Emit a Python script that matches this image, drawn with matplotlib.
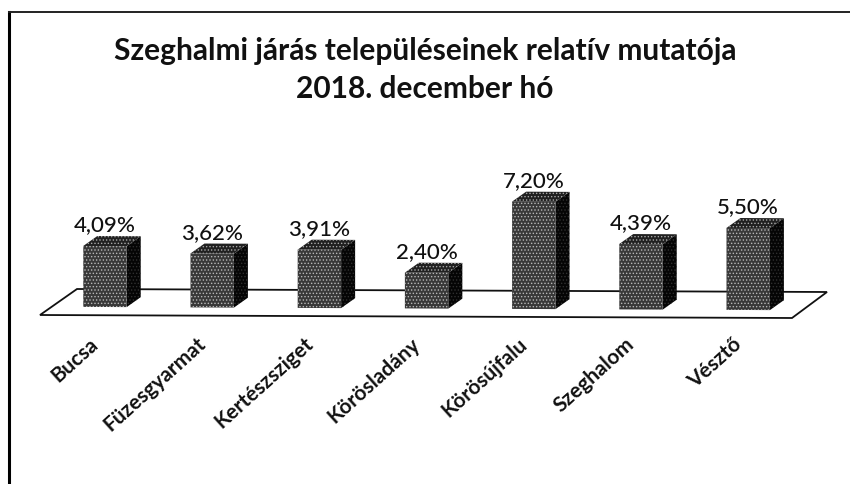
import matplotlib
matplotlib.use('Agg')
import matplotlib.pyplot as plt
from matplotlib.patches import Polygon
from matplotlib.transforms import Affine2D

# Data
telepulesek = ["Bucsa", "Füzesgyarmat", "Kertészsziget", "Körösladány",
               "Körösújfalu", "Szeghalom", "Vésztő"]
mutato = [4.09, 3.62, 3.91, 2.40, 7.20, 4.39, 5.50]
cimkek = ["4,09%", "3,62%", "3,91%", "2,40%", "7,20%", "4,39%", "5,50%"]

plt.rcParams['font.family'] = ['Lato', 'DejaVu Sans']
plt.rcParams['hatch.linewidth'] = 0.6

W, H = 850, 484
fig = plt.figure(figsize=(W / 100, H / 100), dpi=100)
ax = fig.add_axes([0, 0, 1, 1])

# scale: one category = 107.2 px, one percent = 14.9 px, baseline at y=307 px
px_x, px_y = 107.2, 14.9
ax.set_xlim(-105 / px_x, (W - 105) / px_x)
ax.set_ylim(-(H - 307) / px_y, 307 / px_y)
ax.axis('off')

# the scanned page is slightly tilted, about 0.5 px per category
tilt = Affine2D.from_values(1, -0.5 / px_y, 0, 1, 0, 0) + ax.transData

# pixel coordinates for the frame and the floor
pix = Affine2D().scale(1 / W, -1 / H).translate(0, 1) + fig.transFigure

floor = Polygon([(40, 315), (792, 318), (827, 292), (77, 289)], closed=True,
                facecolor='white', edgecolor='#111111', linewidth=1.3,
                transform=pix, zorder=1)
ax.add_patch(floor)
ax.plot([9, 9], [12, 484], color='black', lw=2.2, transform=pix, zorder=1)
ax.plot([9, 850], [12, 12], color='#222222', lw=1.4, transform=pix, zorder=1)

# 3D look of the columns
bar_w = 0.405
dx, dy = 14 / px_x, 10 / px_y
x = list(range(len(mutato)))

for xi, v in zip(x, mutato):
    right = xi + bar_w / 2
    left = xi - bar_w / 2
    side = Polygon([(right, 0), (right + dx, dy), (right + dx, v + dy), (right, v)],
                   facecolor='#050505', edgecolor='#303030', linewidth=0, hatch='.....',
                   transform=tilt, zorder=2)
    top = Polygon([(left, v), (left + dx, v + dy), (right + dx, v + dy), (right, v)],
                  facecolor='#202020', edgecolor='#a8a8a8', hatch='.....', linewidth=0,
                  transform=tilt, zorder=2)
    ax.add_patch(side)
    ax.add_patch(top)

ax.bar(x, mutato, width=bar_w, color='#383838', edgecolor='#b8b8b8',
       linewidth=0, hatch='.....', transform=tilt, zorder=3)

for xi, v, c in zip(x, mutato, cimkek):
    ax.text(xi, v + 1.0, c, ha='center', va='baseline', fontsize=16, fontweight='medium',
            color='#111111', transform=tilt, zorder=4)

for xi, nev in zip(x, telepulesek):
    ax.text(xi - 0.15, -1.8, nev, rotation=42, rotation_mode='anchor', ha='right', va='top',
            fontsize=15, fontweight='bold', color='#111111', zorder=4)

ax.text(425, 70, "Szeghalmi járás településeinek relatív mutatója\n2018. december hó",
        transform=pix, ha='center', va='center', fontsize=21.5, fontweight='bold',
        linespacing=1.44, color='#111111')

fig.savefig('out.png', dpi=100)
